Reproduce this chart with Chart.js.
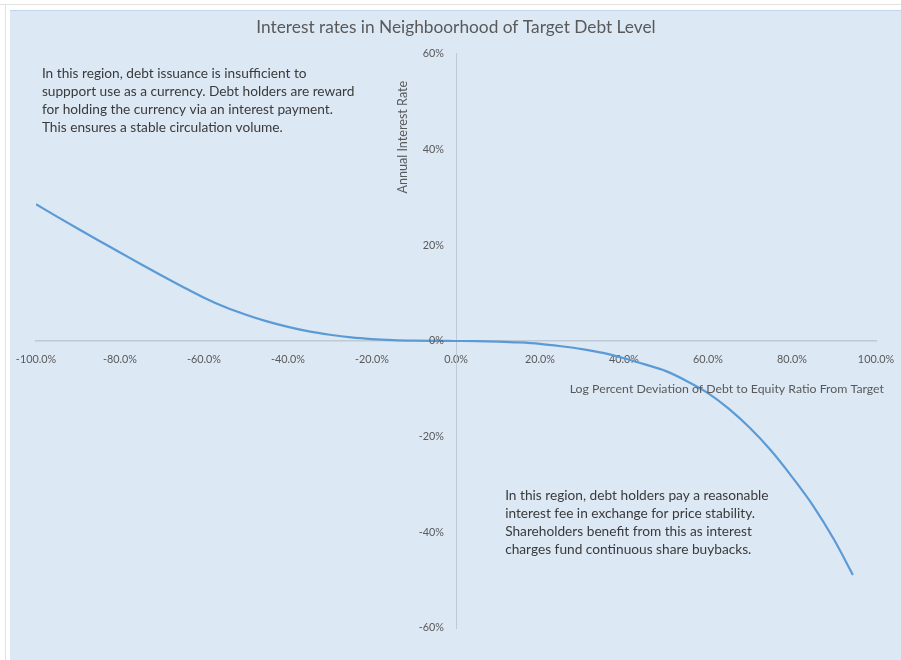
<!DOCTYPE html>
<html><head><meta charset="utf-8">
<script src="https://cdn.jsdelivr.net/npm/chart.js@4/dist/chart.umd.min.js"></script>
<style>
html,body{margin:0;padding:0;background:#fff;}
#wrap{position:relative;width:901px;height:660px;overflow:hidden;}
#topline{position:absolute;left:0;top:4px;width:901px;height:1px;background:#e2e2e2;}
#leftline{position:absolute;left:5px;top:4px;width:1px;height:656px;background:#e2e2e2;}
#panel{position:absolute;left:10px;top:10px;width:891px;height:650px;background:#dde8f5;border-top:1px solid #c3d5ea;}
canvas{position:absolute;left:0;top:0;}
</style></head>
<body><div id="wrap"><div id="topline"></div><div id="leftline"></div><div id="panel"></div><canvas id="c" width="901" height="660"></canvas></div>
<script>
const chartTitle = 'Interest rates in Neighboorhood of Target Debt Level';
const xAxisTitle = 'Log Percent Deviation of Debt to Equity Ratio From Target';
const yAxisTitle = 'Annual Interest Rate';
const deviation = [-100, -95, -90, -85, -80, -75, -70, -65, -60, -55, -50, -45, -40, -35, -30, -25, -20, -15, -10, -5, 0,
                   5, 10, 15, 20, 25, 30, 35, 40, 45, 50, 55, 60, 65, 70, 75, 80, 85, 90, 94.5];
const interestRate = [28.6, 26.0, 23.45, 20.95, 18.5, 16.05, 13.65, 11.3, 9.05, 7.1, 5.5, 4.1, 2.95, 2.0, 1.3, 0.75, 0.4, 0.18, 0.06, 0.01, 0,
                      -0.02, -0.12, -0.3, -0.6, -1.1, -1.7, -2.5, -3.6, -4.9, -6.3, -8.4, -10.9, -14.2, -18.2, -22.9, -28.4, -34.4, -41.5, -48.9];
const xTicks = [-100, -80, -60, -40, -20, 0, 20, 40, 60, 80, 100];
const yTicks = [-60, -40, -20, 0, 20, 40, 60];
const noteUpperLeft = [
  'In this region, debt issuance is insufficient to',
  'suppport use as a currency. Debt holders are reward',
  'for holding the currency via an interest payment.',
  'This ensures a stable circulation volume.'
];
const noteLowerRight = [
  'In this region, debt holders pay a reasonable',
  'interest fee in exchange for price stability.',
  'Shareholders benefit from this as interest',
  'charges fund continuous share buybacks.'
];

const FONT = 'Lato, "Open Sans", sans-serif';
const TICK_FONT_SIZE = 10.8;

const textPlugin = {
  id: 'textPlugin',
  afterDraw(chart) {
    const ctx = chart.ctx, xs = chart.scales.x, ys = chart.scales.y;
    ctx.save();
    // y tick labels, left of the crossing axis
    ctx.fillStyle = '#595959';
    ctx.font = TICK_FONT_SIZE + 'px ' + FONT;
    ctx.textAlign = 'right';
    ctx.textBaseline = 'middle';
    const axisX = xs.getPixelForValue(0);
    yTicks.forEach(v => ctx.fillText(v + '%', axisX - 12, ys.getPixelForValue(v)));
    // notes
    ctx.fillStyle = '#3a3a3a';
    ctx.font = '13.7px ' + FONT;
    ctx.textAlign = 'left';
    const lh = 18;
    let x0 = xs.getPixelForValue(-98.6), y0 = ys.getPixelForValue(56);
    noteUpperLeft.forEach((t, i) => ctx.fillText(t, x0, y0 + i * lh));
    x0 = xs.getPixelForValue(11.7); y0 = ys.getPixelForValue(-32.4);
    noteLowerRight.forEach((t, i) => ctx.fillText(t, x0, y0 + i * lh));
    // axis titles
    ctx.fillStyle = '#595959';
    ctx.font = '12.3px ' + FONT;
    ctx.textAlign = 'right';
    ctx.fillText(xAxisTitle, xs.getPixelForValue(101.9), ys.getPixelForValue(-10));
    ctx.font = '12.6px ' + FONT;
    ctx.translate(xs.getPixelForValue(-12.6), ys.getPixelForValue(42.6));
    ctx.rotate(-Math.PI / 2);
    ctx.textAlign = 'center';
    ctx.fillText(yAxisTitle, 0, 0);
    ctx.restore();
  }
};

new Chart(document.getElementById('c'), {
  type: 'scatter',
  data: {
    datasets: [{
      data: deviation.map((d, i) => ({x: d, y: interestRate[i]})),
      showLine: true,
      borderColor: '#5b9bd5',
      borderWidth: 2.2,
      pointRadius: 0,
      cubicInterpolationMode: 'monotone',
      fill: false
    }]
  },
  options: {
    responsive: false,
    animation: false,
    layout: {padding: {left: 36, right: 25, top: 0, bottom: 32}},
    plugins: {
      legend: {display: false},
      tooltip: {enabled: false},
      title: {
        display: true,
        text: chartTitle,
        color: '#595959',
        font: {family: FONT, size: 17.3, weight: 'normal'},
        padding: {top: 17, bottom: 16.2}
      }
    },
    scales: {
      x: {
        type: 'linear',
        position: {y: 0},
        min: -100, max: 100,
        afterBuildTicks: s => { s.ticks = xTicks.map(v => ({value: v})); },
        grid: {display: true, drawOnChartArea: false, drawTicks: true, tickLength: 9, color: 'rgba(0,0,0,0)'},
        border: {display: true, color: '#bfc9d4', width: 1.5},
        ticks: {
          color: '#595959', font: {family: FONT, size: TICK_FONT_SIZE}, padding: 3,
          maxRotation: 0, autoSkip: false,
          callback: v => v.toFixed(1) + '%'
        }
      },
      y: {
        type: 'linear',
        position: {x: 0},
        min: -60, max: 60,
        afterBuildTicks: s => { s.ticks = yTicks.map(v => ({value: v})); },
        grid: {display: false, drawTicks: false},
        border: {display: true, color: '#bfc9d4', width: 1},
        ticks: {display: false}
      }
    }
  },
  plugins: [textPlugin]
});
</script>
</body></html>
